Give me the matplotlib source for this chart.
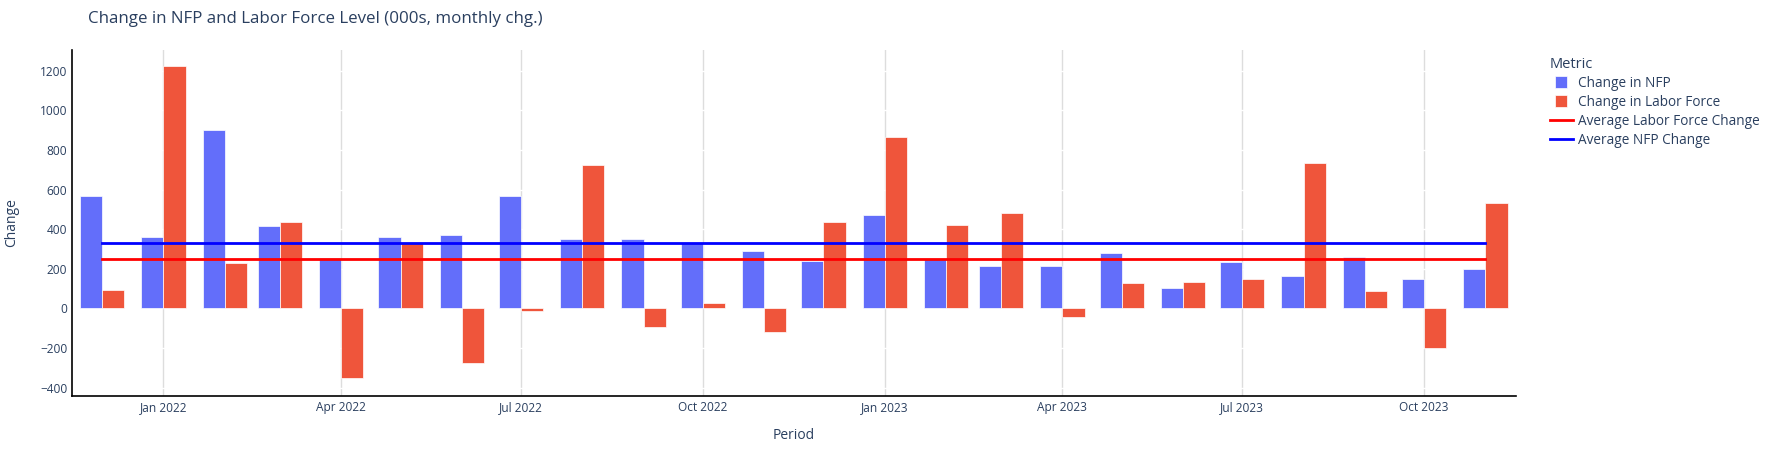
import numpy as np
import pandas as pd
import matplotlib
matplotlib.use("Agg")
import matplotlib.pyplot as plt
import matplotlib.dates as mdates
from matplotlib.lines import Line2D

plt.rcParams['font.family'] = ['Open Sans', 'DejaVu Sans']

# monthly changes, 000s
periods = pd.date_range("2021-12-01", "2023-11-01", freq="MS")
nfp_change = [566, 363, 902, 414, 253, 363, 370, 566, 352, 350, 330, 289,
              238, 470, 250, 216, 216, 279, 105, 233, 164, 262, 149, 198]
lf_change = [93, 1222, 228, 438, -350, 330, -274, -12, 723, -95, 25, -118,
             438, 865, 419, 480, -42, 128, 132, 150, 735, 88, -199, 532]
y_ticks = [-400, -200, 0, 200, 400, 600, 800, 1000, 1200]

avg_nfp = np.mean(nfp_change)
avg_lf = np.mean(lf_change)

text_col = "#2a3f5f"
nfp_col = "#636EFA"
lf_col = "#EF553B"

fig = plt.figure(figsize=(17.78, 4.5), dpi=100)
ax = fig.add_axes([71.5 / 1778, 1 - 395.5 / 450, (1516 - 71.5) / 1778, (395.5 - 50) / 450])

x = mdates.date2num(periods)
bar_w = 11.2  # days
ax.bar(x - bar_w / 2, nfp_change, width=bar_w, color=nfp_col, edgecolor="white",
       linewidth=0.5, zorder=2)
ax.bar(x + bar_w / 2, lf_change, width=bar_w, color=lf_col, edgecolor="white",
       linewidth=0.5, zorder=2)

ax.plot([x[0], x[-1]], [avg_lf, avg_lf], color="red", lw=2, zorder=3)
ax.plot([x[0], x[-1]], [avg_nfp, avg_nfp], color="blue", lw=2, zorder=3)

ax.set_xlim(x[0] - 15.5, x[-1] + 15.5)
ax.set_ylim(-440, 1305)

ax.xaxis.set_major_locator(mdates.MonthLocator(bymonth=[1, 4, 7, 10]))
ax.xaxis.set_major_formatter(mdates.DateFormatter("%b %Y"))
ax.set_yticks(y_ticks)

ax.grid(axis="x", color="#dddddd", lw=1, zorder=0)
ax.grid(axis="y", color="white", lw=1, zorder=0)
ax.set_axisbelow(True)

for s in ["top", "right"]:
    ax.spines[s].set_visible(False)
for s in ["left", "bottom"]:
    ax.spines[s].set_color("black")
    ax.spines[s].set_linewidth(1.2)

ax.tick_params(axis="both", length=0, labelsize=8.6, labelcolor=text_col)
ax.tick_params(axis="y", pad=3)
ax.tick_params(axis="x", pad=4)

ax.set_xlabel("Period", fontsize=10, color=text_col, labelpad=10)
ax.set_ylabel("Change", fontsize=10, color=text_col, labelpad=15)

fig.text(88 / 1778, 1 - 19 / 450, "Change in NFP and Labor Force Level (000s, monthly chg.)",
         fontsize=12.2, color=text_col, ha="left", va="center")

handles = [
    Line2D([], [], marker="s", linestyle="none", markersize=8.5, color=nfp_col,
           markeredgecolor="white", markeredgewidth=0.5),
    Line2D([], [], marker="s", linestyle="none", markersize=8.5, color=lf_col,
           markeredgecolor="white", markeredgewidth=0.5),
    Line2D([], [], color="red", lw=2),
    Line2D([], [], color="blue", lw=2),
]
labels = ["Change in NFP", "Change in Labor Force",
          "Average Labor Force Change", "Average NFP Change"]
leg = fig.legend(handles, labels, title="Metric", loc="upper left",
                 bbox_to_anchor=(1540 / 1778, 1 - 47 / 450), frameon=False,
                 fontsize=9.8, title_fontsize=10.5, alignment="left",
                 handlelength=1.75, handleheight=0.8, handletextpad=0.35,
                 labelspacing=0.3, borderpad=0.2)
for t in leg.get_texts():
    t.set_color(text_col)
leg.get_title().set_color(text_col)

fig.savefig("out.png", dpi=100)
